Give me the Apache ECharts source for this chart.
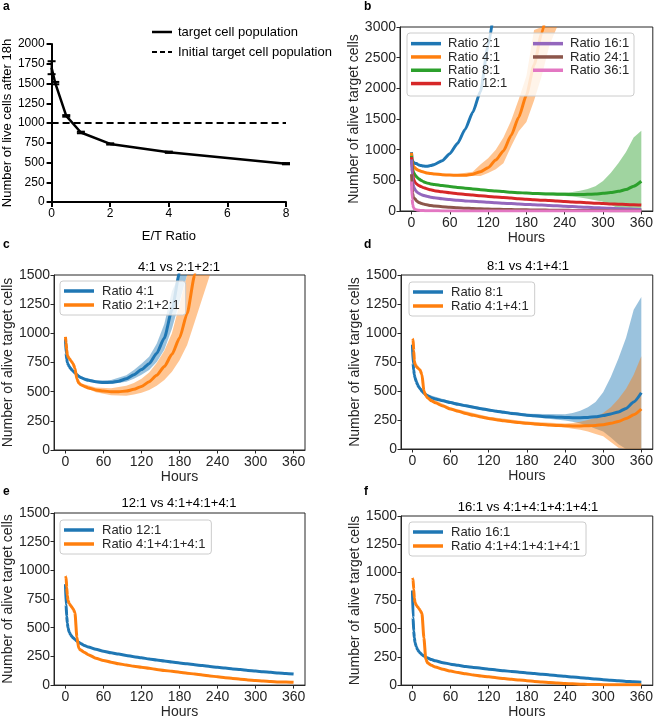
<!DOCTYPE html>
<html><head><meta charset="utf-8">
<script src="https://cdn.jsdelivr.net/npm/echarts@6/dist/echarts.min.js"></script>
<style>html,body{margin:0;padding:0;background:#fff}#c{width:656px;height:720px}</style>
</head><body><div id="c"></div>
<script>
// ---------- Panel a data ----------
const aX    = [0, 0.125, 0.5, 1, 2, 4, 8];
const aMean = [1700, 1505, 1090, 880, 735, 630, 485];
const aLo   = [1618, 1490, 1080, 870, 727, 622, 477];
const aHi   = [1782, 1520, 1100, 890, 743, 638, 493];
const initX = [0, 8];
const initY = [1000, 1000];

// ---------- shared time grid (hours) ----------
const hours = [0,1,2,3,4,6,8,10,12,15,18,21,24,30,36,48,60,72,84,96,108,120,132,144,156,168,180,192,204,216,228,240,252,264,276,288,300,312,324,336,348,360];
const hourTicks = [0, 60, 120, 180, 240, 300, 360];

// ---------- panel b values (aligned with hours, may be shorter) ----------
const ratio2_1  = [960,850,810,795,785,775,773,760,750,740,735,731,729,740,760,820,935,1100,1330,1610,1950,2700,3500];
const ratio4_1b = [950,820,760,730,715,695,680,670,660,648,638,628,620,610,603,592,585,583,583,600,640,705,830,980,1230,1530,1890,2380,2900,3500];
const ratio8_1  = [900,740,680,640,615,580,555,535,520,500,482,468,458,442,432,415,400,385,372,360,348,336,326,316,307,299,292,286,281,277,274,272,270,270,272,278,288,302,320,350,405,485];
const ratio12_1 = [880,700,600,540,500,460,440,425,413,398,385,373,362,345,332,312,296,282,270,259,248,238,228,219,210,201,193,185,177,170,162,155,148,141,135,128,122,116,111,106,101,96];
const ratio16_1 = [840,600,480,420,380,340,315,298,285,270,258,248,240,226,215,199,186,175,165,157,149,141,134,127,121,114,108,102,96,90,84,78,72,66,60,54,48,43,38,33,29,25];
const ratio24_1 = [600,380,280,230,210,190,165,150,138,125,115,107,100,90,82,70,60,52,46,40,36,32,29,26,23,21,19,17,15,14,12,11,10,9,8,7,7,6,6,5,5,5];
const ratio36_1 = [480,200,100,60,40,25,18,14,11,9,7,6,5,4,3,2,2,2,2,2,2,2,2,2,2,1,1,1,1,1,1,1,1,1,1,1,1,1,1,1,1,1];

// ---------- panels c-f values ----------
const ratio4_1  = [950,830,780,750,735,715,700,688,675,660,645,632,622,607,597,585,578,580,590,610,645,690,740,830,960,1200,1520,1950,2600,3450];
const ratio2p2  = [970,920,860,815,800,785,770,755,740,700,610,575,560,545,532,515,505,500,500,505,520,545,585,640,715,820,960,1170,1500,1950];
const ratio4p4  = [950,945,850,760,730,710,700,690,680,640,500,460,440,415,398,370,345,325,305,290,276,264,253,243,235,228,222,216,211,207,203,201,199,199,200,203,210,222,238,262,295,345];
const ratio4p4p4 = [950,940,850,780,740,710,695,680,665,630,420,320,305,285,265,235,215,200,186,175,164,155,146,137,128,120,112,104,96,88,80,72,65,58,51,45,40,35,31,28,26,24];
const ratio4x4  = [950,940,850,770,735,710,695,680,665,635,420,230,195,175,160,140,124,111,100,90,81,73,65,58,51,45,39,33,28,23,18,14,11,8,6,5,4,3,3,2,2,2];

// ---------- confidence bands ----------
const band4H   = [0,3,12,24,48,72,96,108,120,132,144,156,168,180,192,204,216,228,240];
const band4bLo = [935,740,650,605,575,565,570,570,620,680,780,1050,1300,1450,1800,2200,2700,3100,4000];
const band4bHi = [965,760,675,635,605,605,640,760,860,1000,1200,1470,1820,2200,2950,3600,4000,4000,4000];
const band4Lo  = [935,740,665,612,575,565,585,610,645,685,755,860,1040,1270,1600,2050,2650,3300,4000];
const band4Hi  = [965,760,685,632,595,600,640,685,740,800,910,1080,1360,1780,2400,3300,4000,4000,4000];

const band22H  = [0,3,12,15,18,24,48,72,96,108,120,132,144,156,168,180,192,204,216,228,240];
const band22Lo = [960,805,730,690,600,550,495,470,465,475,490,515,550,600,670,770,900,1100,1300,1550,2000];
const band22Hi = [980,825,750,710,620,572,535,530,550,575,610,665,745,850,1000,1250,1600,2100,2600,3100,3600];

const band8H  = [0,3,12,24,60,120,180,240,252,264,276,288,300,312,324,336,348,360];
const band8Lo = [880,620,505,445,388,324,280,245,235,220,200,175,150,100,40,-30,-120,-250];
const band8Hi = [920,660,535,470,412,348,304,300,310,330,360,405,490,620,780,960,1200,1310];

const band44H  = [0,3,12,15,18,24,60,120,180,240,252,264,276,288,300,312,324,336,348,360];
const band44Lo = [940,750,670,630,490,428,333,252,210,185,175,165,150,130,110,60,10,-60,-150,-250];
const band44Hi = [960,770,690,650,510,452,358,278,236,220,225,235,250,270,310,360,430,520,640,800];

// ---------- styling ----------
const FONT = '"Liberation Sans", Arial, Helvetica, sans-serif';
const INK = '#262626';
const C = {blue:'#1f77b4', orange:'#ff7f0e', green:'#2ca02c', red:'#d62728', purple:'#9467bd', brown:'#8c564b', pink:'#e377c2'};
const A = {blue:'rgba(31,119,180,0.45)', orange:'rgba(255,127,14,0.45)', green:'rgba(44,160,44,0.45)'};
const plain = v => String(v);

function pairs(xs, ys) { return ys.map((v, i) => [xs[i], v]); }

const gridBox = {show:true, borderColor:INK, borderWidth:1, backgroundColor:'transparent'};
const grids = [
  {left:50, top:44, width:236, height:158, show:false},
  Object.assign({left:400, top:27, width:254, height:184}, gridBox),
  Object.assign({left:53, top:275, width:252, height:175}, gridBox),
  Object.assign({left:401, top:275, width:254, height:174}, gridBox),
  Object.assign({left:52, top:513, width:253, height:174}, gridBox),
  Object.assign({left:401, top:516, width:254, height:174}, gridBox)
];

function hoursAxis(gi) {
  return {type:'value', gridIndex:gi, min:-18, max:378, splitLine:{show:false},
    axisLine:{show:true, onZero:false, lineStyle:{color:INK, width:1}},
    axisTick:{show:true, length:3.5, lineStyle:{color:INK}, customValues:hourTicks},
    axisLabel:{fontSize:14, color:INK, margin:5, fontFamily:FONT, customValues:hourTicks, formatter:plain},
    name:'Hours', nameLocation:'middle', nameGap:17,
    nameTextStyle:{fontSize:14, color:INK, fontFamily:FONT}};
}
function cellsAxis(gi, max, interval, gap) {
  return {type:'value', gridIndex:gi, min:0, max:max, interval:interval, splitLine:{show:false},
    axisLine:{show:true, onZero:false, lineStyle:{color:INK, width:1}},
    axisTick:{show:true, length:3.5, lineStyle:{color:INK}},
    axisLabel:{fontSize:14, color:INK, margin:4, fontFamily:FONT, formatter:plain},
    name:'Number of alive target cells', nameLocation:'middle', nameGap:gap,
    nameTextStyle:{fontSize:14, color:INK, fontFamily:FONT}};
}

function lineS(name, gi, xs, ys, color) {
  return {type:'line', name:name, xAxisIndex:gi, yAxisIndex:gi, data:pairs(xs, ys),
    showSymbol:false, symbol:'none', clip:true, smooth:0.2, smoothMonotone:'x',
    lineStyle:{color:color, width:3}, itemStyle:{color:color}, z:3, silent:true};
}
function bandS(gi, xs, lo, hi, fill, ymax) {
  return {type:'custom', xAxisIndex:gi, yAxisIndex:gi, clip:true, silent:true, z:1,
    data:[[xs[0], lo[0]]], encode:{x:0, y:1},
    renderItem: function (params, api) {
      const cl = v => Math.max(0, Math.min(ymax, v));
      const pts = [];
      for (let i = 0; i < xs.length; i++) pts.push(api.coord([xs[i], cl(hi[i])]));
      for (let i = xs.length - 1; i >= 0; i--) pts.push(api.coord([xs[i], cl(lo[i])]));
      return {type:'polygon', shape:{points:pts}, style:{fill:fill}};
    }};
}

function legendBox(names, colors, left, top) {
  return {show:true, left:left, top:top, orient:'vertical', icon:'rect', itemWidth:30, itemHeight:3.5,
    itemGap:0, selectedMode:false, padding:[3,6,3,4], backgroundColor:'rgba(255,255,255,0.8)',
    borderColor:'#cccccc', borderWidth:1, borderRadius:3, z:6,
    textStyle:{fontSize:13, color:INK, fontFamily:FONT, lineHeight:14, padding:[0,0,0,3]},
    data:names.map((n, i) => ({name:n, itemStyle:{color:colors[i]}, lineStyle:{color:colors[i]}}))};
}
function legendPlain(names, colors, left, top) {
  return {show:true, left:left, top:top, orient:'vertical', icon:'rect', itemWidth:30, itemHeight:3.5,
    itemGap:0, selectedMode:false, padding:0, z:6,
    textStyle:{fontSize:13, color:INK, fontFamily:FONT, lineHeight:13.3, padding:[0,0,0,2]},
    data:names.map((n, i) => ({name:n, itemStyle:{color:colors[i]}, lineStyle:{color:colors[i]}}))};
}

function txt(s, x, y, size, bold, align) {
  return {type:'text', x:x, y:y, z:10, style:{text:s, font:(bold ? 'bold ' : '') + size + 'px ' + FONT,
    fill:'#000', textAlign:align || 'left', align:align || 'left', textVerticalAlign:'middle', verticalAlign:'middle'}};
}

const option = {
  animation:false,
  backgroundColor:'#ffffff',
  grid:grids,
  xAxis:[
    {type:'value', gridIndex:0, min:0, max:8, interval:2, splitLine:{show:false},
      axisLine:{show:true, onZero:false, lineStyle:{color:'#000', width:2}},
      axisTick:{show:true, length:5, lineStyle:{color:'#000', width:2}},
      axisLabel:{fontSize:12, color:'#000', margin:6, fontFamily:FONT, formatter:plain},
      name:'E/T Ratio', nameLocation:'middle', nameGap:28,
      nameTextStyle:{fontSize:13, color:'#000', fontFamily:FONT}},
    hoursAxis(1), hoursAxis(2), hoursAxis(3), hoursAxis(4), hoursAxis(5)
  ],
  yAxis:[
    {type:'value', gridIndex:0, min:0, max:2000, interval:250, splitLine:{show:false},
      axisLine:{show:true, onZero:false, lineStyle:{color:'#000', width:2}},
      axisTick:{show:true, length:5, lineStyle:{color:'#000', width:2}},
      axisLabel:{fontSize:12, color:'#000', margin:7, fontFamily:FONT, formatter:plain},
      name:'Number of live cells after 18h', nameLocation:'middle', nameGap:32,
      nameTextStyle:{fontSize:13, color:'#000', fontFamily:FONT}},
    cellsAxis(1, 3000, 500, 35),
    cellsAxis(2, 1500, 250, 36),
    cellsAxis(3, 1500, 250, 36),
    cellsAxis(4, 1500, 250, 36),
    cellsAxis(5, 1500, 250, 36)
  ],
  legend:[
    legendPlain(['Ratio 2:1','Ratio 4:1','Ratio 8:1','Ratio 12:1'], [C.blue,C.orange,C.green,C.red], 411, 37),
    legendPlain(['Ratio 16:1','Ratio 24:1','Ratio 36:1'], [C.purple,C.brown,C.pink], 533, 37),
    legendBox(['Ratio 4:1','Ratio 2:1+2:1'], [C.blue,C.orange], 60, 281),
    legendBox(['Ratio 8:1','Ratio 4:1+4:1'], [C.blue,C.orange], 409, 282),
    legendBox(['Ratio 12:1','Ratio 4:1+4:1+4:1'], [C.blue,C.orange], 60, 520),
    legendBox(['Ratio 16:1','Ratio 4:1+4:1+4:1+4:1'], [C.blue,C.orange], 409, 522)
  ],
  graphic:[
    {type:'rect', z:5, shape:{x:407, y:33, width:227, height:63, r:3},
      style:{fill:'rgba(255,255,255,0.8)', stroke:'#cccccc', lineWidth:1}},
    {type:'line', z:10, shape:{x1:152, y1:32, x2:172, y2:32}, style:{stroke:'#000', lineWidth:2.5}},
    {type:'line', z:10, shape:{x1:152, y1:52, x2:172, y2:52}, style:{stroke:'#000', lineWidth:2, lineDash:[5,3]}},
    txt('target cell population', 178, 32, 13, false),
    txt('Initial target cell population', 178, 52, 13, false),
    txt('a', 3, 7, 12, true), txt('b', 364, 7, 12, true),
    txt('c', 3, 245, 12, true), txt('d', 364, 245, 12, true),
    txt('e', 3, 492, 12, true), txt('f', 364, 492, 12, true),
    txt('4:1 vs 2:1+2:1', 179, 267, 13, false, 'center'),
    txt('8:1 vs 4:1+4:1', 528, 266, 13, false, 'center'),
    txt('12:1 vs 4:1+4:1+4:1', 179, 503, 13, false, 'center'),
    txt('16:1 vs 4:1+4:1+4:1+4:1', 528, 507, 13, false, 'center')
  ],
  series:[
    // panel a
    {type:'line', name:'target cell population', xAxisIndex:0, yAxisIndex:0, data:pairs(aX, aMean),
      showSymbol:false, symbol:'none', lineStyle:{color:'#000', width:2.5}, itemStyle:{color:'#000'}, z:3, silent:true},
    {type:'line', name:'Initial target cell population', xAxisIndex:0, yAxisIndex:0, data:pairs(initX, initY),
      showSymbol:false, symbol:'none', lineStyle:{color:'#000', width:2, type:[7,4]}, itemStyle:{color:'#000'}, z:3, silent:true},
    {type:'custom', xAxisIndex:0, yAxisIndex:0, silent:true, z:4,
      data:aX.map((x, i) => [x, aLo[i], aHi[i]]), encode:{x:0, y:[1,2]},
      renderItem: function (params, api) {
        const x = api.value(0);
        const p1 = api.coord([x, api.value(1)]), p2 = api.coord([x, api.value(2)]);
        const w = 4, st = {stroke:'#000', lineWidth:2};
        return {type:'group', children:[
          {type:'line', shape:{x1:p1[0], y1:p1[1], x2:p2[0], y2:p2[1]}, style:st},
          {type:'line', shape:{x1:p1[0]-w, y1:p1[1], x2:p1[0]+w, y2:p1[1]}, style:st},
          {type:'line', shape:{x1:p2[0]-w, y1:p2[1], x2:p2[0]+w, y2:p2[1]}, style:st}
        ]};
      }},
    // panel b
    bandS(1, band4H, band4bLo, band4bHi, A.orange, 3000),
    bandS(1, band8H, band8Lo, band8Hi, A.green, 3000),
    lineS('Ratio 2:1', 1, hours, ratio2_1, C.blue),
    lineS('Ratio 4:1', 1, hours, ratio4_1b, C.orange),
    lineS('Ratio 8:1', 1, hours, ratio8_1, C.green),
    lineS('Ratio 12:1', 1, hours, ratio12_1, C.red),
    lineS('Ratio 16:1', 1, hours, ratio16_1, C.purple),
    lineS('Ratio 24:1', 1, hours, ratio24_1, C.brown),
    lineS('Ratio 36:1', 1, hours, ratio36_1, C.pink),
    // panel c
    bandS(2, band4H, band4Lo, band4Hi, A.blue, 1500),
    bandS(2, band22H, band22Lo, band22Hi, A.orange, 1500),
    lineS('Ratio 4:1', 2, hours, ratio4_1, C.blue),
    lineS('Ratio 2:1+2:1', 2, hours, ratio2p2, C.orange),
    // panel d
    bandS(3, band8H, band8Lo, band8Hi, A.blue, 1500),
    bandS(3, band44H, band44Lo, band44Hi, A.orange, 1500),
    lineS('Ratio 8:1', 3, hours, ratio8_1, C.blue),
    lineS('Ratio 4:1+4:1', 3, hours, ratio4p4, C.orange),
    // panel e
    lineS('Ratio 12:1', 4, hours, ratio12_1, C.blue),
    lineS('Ratio 4:1+4:1+4:1', 4, hours, ratio4p4p4, C.orange),
    // panel f
    lineS('Ratio 16:1', 5, hours, ratio16_1, C.blue),
    lineS('Ratio 4:1+4:1+4:1+4:1', 5, hours, ratio4x4, C.orange)
  ]
};

const chart = echarts.init(document.getElementById('c'), null, {renderer:'canvas', width:656, height:720});
chart.setOption(option);
</script></body></html>
